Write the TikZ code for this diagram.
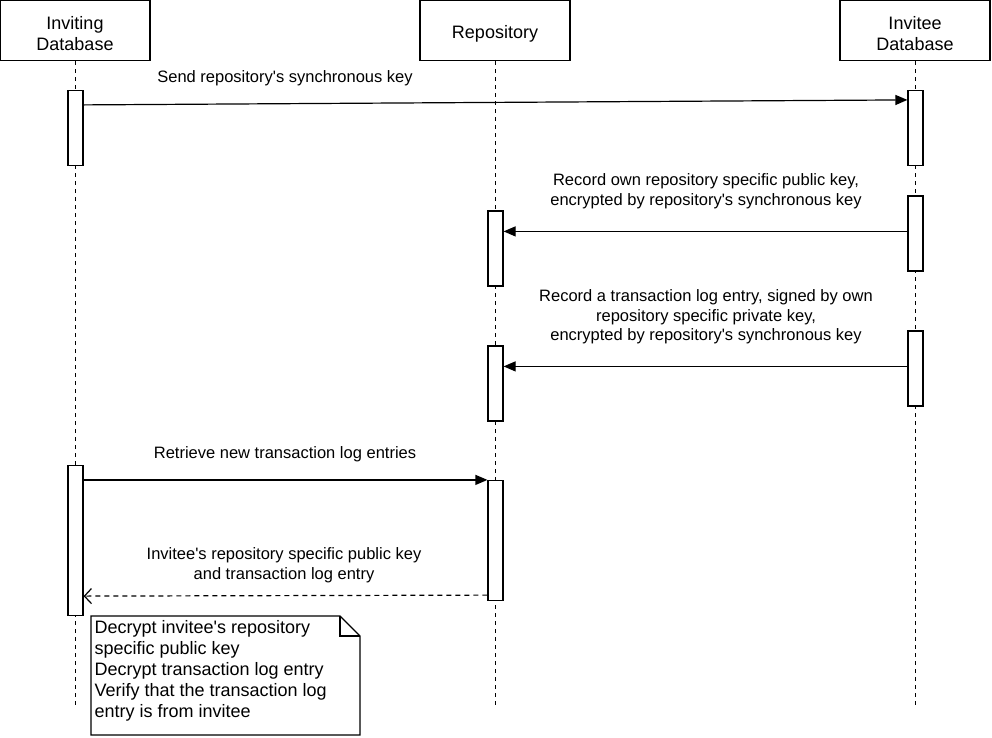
\documentclass[tikz,border=0pt]{standalone}
\usepackage{fontspec}
\setmainfont{Liberation Sans}
\usetikzlibrary{arrows.meta,calc}
\newcommand{\apos}{\textquotesingle}
\begin{document}
\begin{tikzpicture}[x=1pt,y=-1pt,line width=1.2pt,
  hdr/.style={draw,fill=white,minimum width=150pt,minimum height=60pt,inner sep=0pt},
  hdrtxt/.style={align=center,inner sep=0pt,font=\fontsize{18}{21}\selectfont},
  act/.style={draw,fill=white,minimum width=15pt,inner sep=0pt},
  life/.style={line width=1pt,dash pattern=on 4pt off 4pt},
  msg/.style={-{Triangle[length=12pt,width=10pt]}},
  ret/.style={dash pattern=on 5pt off 4pt,-{Straight Barb[length=7pt,width=15pt]}},
  lbl/.style={align=center,inner sep=0pt,font=\fontsize{16.5}{19.5}\selectfont},
  notetext/.style={align=left,inner sep=0pt,anchor=north west,font=\fontsize{18}{21}\selectfont}]
\useasboundingbox (0,0) rectangle (992,737);
% headers
\node[hdr] (h1) at (75,30.5) {};
\node[hdr] (h2) at (495,30.5) {};
\node[hdr] (h3) at (915,30.5) {};
\node[hdrtxt] (t1) at ($(h1.center)+(0,3)$) {Inviting\\Database};
\node[hdrtxt] (t2) at ($(h2.center)+(0,3)$) {Repository};
\node[hdrtxt] (t3) at ($(h3.center)+(0,3)$) {Invitee\\Database};
% lifeline ends
\coordinate (e1) at (75,705);
\coordinate (e2) at (495,705);
\coordinate (e3) at (915,705);
\draw[life] (h1.south) -- (e1);
\draw[life] (h2.south) -- (e2);
\draw[life] (h3.south) -- (e3);
% activations
\node[act,minimum height=75pt] (a1) at (75.5,128) {};
\node[act,minimum height=75pt] (i1) at (915.5,128) {};
\node[act,minimum height=75pt] (i2) at (915.5,233.5) {};
\node[act,minimum height=75pt] (r2) at (495.5,248.5) {};
\node[act,minimum height=75pt] (i3) at (915.5,368.5) {};
\node[act,minimum height=75pt] (r3) at (495.5,383.5) {};
\node[act,minimum height=150pt] (a4) at (75.5,540.5) {};
\node[act,minimum height=120pt] (r4) at (495.5,540.5) {};
% message endpoints
\coordinate (m1s) at ($(a1.north east)+(0,15)$);
\coordinate (m1e) at ($(i1.north west)+(0,10)$);
\coordinate (m2s) at ($(i2.north west)+(0,36)$);
\coordinate (m3s) at ($(i3.north west)+(0,36)$);
\coordinate (m4s) at ($(a4.north east)+(0,15)$);
\coordinate (m5s) at ($(r4.south west)+(0,-6)$);
\coordinate (m5e) at ($(a4.south east)+(0,-20)$);
% messages
\draw[msg] (m1s) -- (m1e);
\draw[msg] (m2s) -- (m2s -| r2.east);
\draw[msg] (m3s) -- (m3s -| r3.east);
\draw[msg] (m4s) -- (m4s -| r4.west);
\draw[ret] (m5s) -- (m5e);
% labels
\node[lbl] (l1) at (285,78) {Send repository\apos s synchronous key};
\node[lbl] (l2) at (706,191) {Record own repository specific public key,\\encrypted by repository\apos s synchronous key};
\node[lbl] (l3) at (706,317) {Record a transaction log entry, signed by own\\repository specific private key,\\encrypted by repository\apos s synchronous key};
\node[lbl] (l4) at (285,454) {Retrieve new transaction log entries};
\node[lbl] (l5) at (284,565) {Invitee\apos s repository specific public key\\and transaction log entry};
% note
\coordinate (n1) at (91,616);
\coordinate (n2) at (340,616);
\coordinate (n3) at (360,636);
\coordinate (n4) at (360,735);
\coordinate (n5) at (91,735);
\draw[fill=white] (n1) -- (n2) -- (n3) -- (n4) -- (n5) -- cycle;
\draw (n2) -- (n2 |- n3) -- (n3);
\node[notetext] (nt) at (94,620) {Decrypt invitee\apos s repository\\specific public key\\Decrypt transaction log entry\\Verify that the transaction log\\entry is from invitee};
\end{tikzpicture}
\end{document}
